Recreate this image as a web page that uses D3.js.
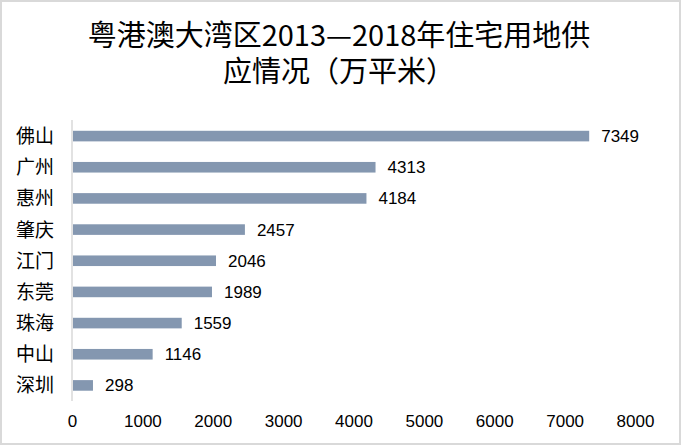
<!DOCTYPE html>
<html><head><meta charset="utf-8">
<script src="https://cdn.jsdelivr.net/npm/d3@7"></script>
<style>
html,body{margin:0;padding:0;background:#fff;}
svg{display:block;}
</style></head>
<body>
<script>
const titleLines = ["粤港澳大湾区2013—2018年住宅用地供", "应情况（万平米）"];
const cities = ["佛山","广州","惠州","肇庆","江门","东莞","珠海","中山","深圳"];
const values = [7349,4313,4184,2457,2046,1989,1559,1146,298];
const tickValues = [0,1000,2000,3000,4000,5000,6000,7000,8000];

const W = 681, H = 445;
const svg = d3.select("body").append("svg").attr("width", W).attr("height", H);

svg.append("rect").attr("x",1).attr("y",1).attr("width",W-2).attr("height",H-2)
  .attr("fill","#fff").attr("stroke","#d9d9d9").attr("stroke-width",2);

const cjk = "'Noto Sans CJK SC','Noto Sans',sans-serif";
const num = "'Liberation Sans',Arial,sans-serif";

svg.selectAll("text.title").data(titleLines).enter().append("text")
  .attr("class","title")
  .attr("x", 339).attr("y", (d,i)=> 46 + i*36)
  .attr("text-anchor","middle")
  .attr("font-family", cjk).attr("font-size", 29).attr("fill","#000")
  .text(d=>d);

const x = d3.scaleLinear().domain([0,8000]).range([72,635]);
const y = d3.scaleBand().domain(cities).range([120.5,401]).paddingInner(0.66).paddingOuter(0.33);

// axis line
svg.append("line").attr("x1",72).attr("x2",72).attr("y1",120).attr("y2",401)
  .attr("stroke","#d9d9d9").attr("stroke-width",1.5);

// bars
svg.selectAll("rect.bar").data(values).enter().append("rect")
  .attr("class","bar")
  .attr("x", x(0)+1)
  .attr("y", (d,i)=> y(cities[i]))
  .attr("width", d=> x(d)-x(0)-1)
  .attr("height", y.bandwidth())
  .attr("fill","#8497b0");

// value labels
svg.selectAll("text.val").data(values).enter().append("text")
  .attr("class","val")
  .attr("x", d=> x(d)+12)
  .attr("y", (d,i)=> y(cities[i]) + y.bandwidth()/2 + 6)
  .attr("font-family", num).attr("font-size", 17).attr("fill","#000")
  .text(d=>d);

// category labels
svg.selectAll("text.cat").data(cities).enter().append("text")
  .attr("class","cat")
  .attr("x", 54)
  .attr("y", d=> y(d) + y.bandwidth()/2 + 7)
  .attr("text-anchor","end")
  .attr("font-family", cjk).attr("font-size", 19).attr("fill","#000")
  .text(d=>d);

// x tick labels
const xAxis = d3.axisBottom(x).tickValues(tickValues).tickSize(0).tickPadding(0).tickFormat(d3.format("d"));
const gx = svg.append("g").attr("transform","translate(0,415)").call(xAxis);
gx.select(".domain").remove();
gx.selectAll("text").attr("font-family", num).attr("font-size", 17).attr("fill","#000")
  .attr("dy","0.72em").attr("y",0);
</script>
</body></html>
